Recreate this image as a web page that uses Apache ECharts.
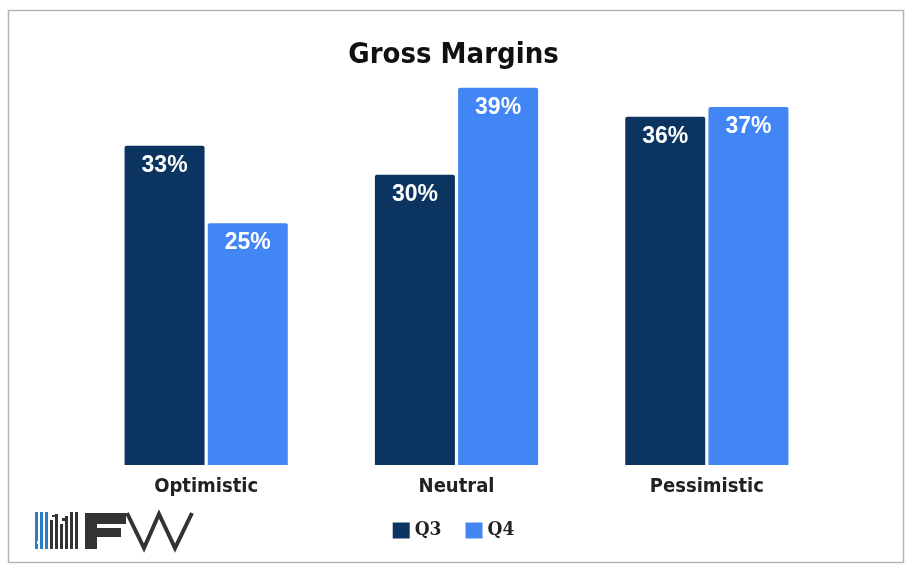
<!DOCTYPE html>
<html>
<head>
<meta charset="utf-8">
<script src="https://cdn.jsdelivr.net/npm/echarts@6/dist/echarts.min.js"></script>
<style>
  html, body { margin: 0; padding: 0; background: #fff; }
  #chart { width: 907px; height: 567px; }
</style>
</head>
<body>
<div id="chart"></div>
<script>
// Scenario categories and quarterly gross margin values (%)
const categories = ['Optimistic', 'Neutral', 'Pessimistic'];
const q3Values = [33, 30, 36];
const q4Values = [25, 39, 37];
const seriesNames = ['Q3', 'Q4'];

const COLOR_Q3 = '#0b3461';
const COLOR_Q4 = '#4285f4';
const LOGO_BLUE = '#2c7cc6';
const LOGO_DARK = '#333333';

const chart = echarts.init(document.getElementById('chart'), null, { renderer: 'canvas' });

// Logo: small bar-chart icon followed by a heavy "F" and a thin "VV"
const iconBars = [
  { x: 35, top: 512, color: LOGO_BLUE },
  { x: 40, top: 512, color: LOGO_BLUE },
  { x: 45, top: 512, color: LOGO_BLUE },
  { x: 50, top: 520, color: LOGO_DARK },
  { x: 55, top: 514, color: LOGO_DARK },
  { x: 60, top: 524, color: LOGO_DARK },
  { x: 65, top: 516, color: LOGO_DARK },
  { x: 70, top: 512, color: LOGO_DARK },
  { x: 75, top: 512, color: LOGO_DARK }
];
const logoGraphics = iconBars.map(b => ({
  type: 'rect',
  shape: { x: b.x, y: b.top, width: 3, height: 549 - b.top },
  style: { fill: b.color }
}));
logoGraphics.push(
  { type: 'rect', shape: { x: 37, y: 541, width: 3, height: 3 }, style: { fill: '#fff' } },
  { type: 'rect', shape: { x: 52, y: 515, width: 3, height: 2 }, style: { fill: LOGO_DARK } },
  { type: 'rect', shape: { x: 62, y: 518, width: 3, height: 3 }, style: { fill: LOGO_DARK } },
  // F
  { type: 'polygon', shape: { points: [[85,513],[126,513],[126,524],[97,524],[97,528],[121,528],[121,537],[97,537],[97,549],[85,549]] }, style: { fill: LOGO_DARK } },
  // VV
  { type: 'polyline', shape: { points: [[127,513],[144,548],[159,514],[175,548],[192,513]] }, style: { stroke: LOGO_DARK, lineWidth: 4, fill: null, lineJoin: 'miter' } }
);

const valueLabel = {
  show: true,
  position: 'insideTop',
  distance: 8,
  formatter: '{c}%',
  color: '#fff',
  fontFamily: 'Liberation Sans',
  fontWeight: 'bold',
  fontSize: 23
};

const option = {
  backgroundColor: '#ffffff',
  animation: false,
  title: {
    text: 'Gross Margins',
    left: 'center',
    top: 36,
    textStyle: {
      fontFamily: 'DejaVu Sans Condensed',
      fontWeight: 'bold',
      fontSize: 29,
      color: '#111'
    }
  },
  legend: {
    data: seriesNames,
    left: 'center',
    top: 516,
    itemWidth: 17,
    itemHeight: 16,
    itemGap: 24,
    icon: 'rect',
    textStyle: {
      fontFamily: 'DejaVu Serif Condensed',
      fontWeight: 'bold',
      fontSize: 19,
      color: '#222'
    }
  },
  grid: { left: 81, right: 75, top: 78, bottom: 102 },
  xAxis: {
    type: 'category',
    data: categories,
    axisLine: { show: false },
    axisTick: { show: false },
    axisLabel: {
      margin: 12,
      fontFamily: 'DejaVu Sans Condensed',
      fontWeight: 'bold',
      fontSize: 20,
      color: '#222'
    }
  },
  yAxis: {
    type: 'value',
    min: 0,
    max: 40,
    show: false,
    splitLine: { show: false }
  },
  series: [
    {
      name: seriesNames[0],
      type: 'bar',
      data: q3Values,
      barWidth: 80,
      barGap: '4%',
      itemStyle: { color: COLOR_Q3, borderRadius: [2, 2, 0, 0] },
      label: valueLabel
    },
    {
      name: seriesNames[1],
      type: 'bar',
      data: q4Values,
      barWidth: 80,
      itemStyle: { color: COLOR_Q4, borderRadius: [2, 2, 0, 0] },
      label: valueLabel
    }
  ],
  graphic: [
    {
      type: 'rect',
      z: -1,
      shape: { x: 8.5, y: 10.5, width: 895, height: 552 },
      style: { fill: 'none', stroke: '#b5b5b5', lineWidth: 1.5 }
    },
    ...logoGraphics
  ]
};

chart.setOption(option);
</script>
</body>
</html>
